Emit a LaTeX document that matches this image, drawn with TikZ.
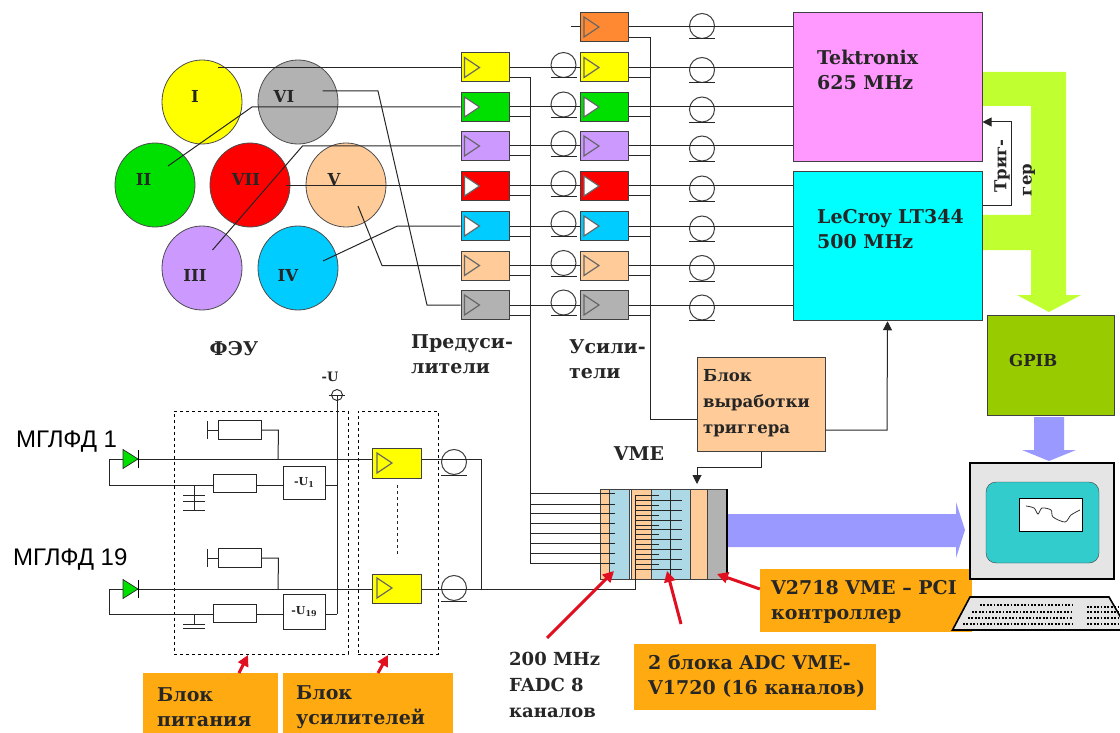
\documentclass[tikz,border=0pt]{standalone}
\usepackage{xcolor}
\usepackage{fontspec}
\setmainfont{DejaVu Serif}
\newfontfamily\arialfont{Liberation Sans}
\usepackage{tikz}
\usetikzlibrary{arrows.meta,positioning,shapes.geometric,fit}
\definecolor{CYellow}{RGB}{255,255,0}
\definecolor{CGreen}{RGB}{0,224,0}
\definecolor{CPurple}{RGB}{204,153,255}
\definecolor{CRed}{RGB}{255,0,0}
\definecolor{CBlue}{RGB}{0,204,255}
\definecolor{CPeach}{RGB}{255,204,153}
\definecolor{CGray}{RGB}{178,178,178}
\definecolor{COrange}{RGB}{255,136,51}
\definecolor{CPink}{RGB}{255,153,255}
\definecolor{CCyan}{RGB}{0,255,255}
\definecolor{CLabel}{RGB}{255,170,17}
\definecolor{CLime}{RGB}{192,255,48}
\definecolor{COlive}{RGB}{153,204,0}
\definecolor{CPeri}{RGB}{153,153,255}
\definecolor{CTeal}{RGB}{51,204,204}
\definecolor{CRack}{RGB}{173,216,230}
\definecolor{CArrow}{RGB}{224,16,32}
\tikzset{
  wire/.style={draw=black!85,line width=1pt},
  pmt/.style={ellipse,draw=black!70,line width=0.8pt,inner sep=0pt,minimum width=80pt,minimum height=84pt},
  pmtlabel/.style={font=\bfseries\fontsize{16.5}{16.5}\selectfont,text=black!85,inner sep=0pt},
  ampbox/.style={rectangle,draw=black!75,line width=1pt,inner sep=0pt,minimum width=48pt,minimum height=29pt},
  ampmark/.style={draw=black!60,line width=1.2pt},
  coil/.style={circle,draw=black!75,line width=1pt,inner sep=0pt,minimum size=25pt},
  block/.style={rectangle,draw=black!75,line width=1pt,inner sep=0pt},
  part/.style={rectangle,draw=black!85,line width=1pt,fill=white,inner sep=0pt},
  txt/.style={font=\bfseries\fontsize{19}{25}\selectfont,align=left,inner sep=0pt,anchor=west,text=black!85},
  smalltxt/.style={txt,font=\bfseries\fontsize{16.5}{26}\selectfont},
  tag/.style={rectangle,fill=CLabel,inner sep=0pt},
  dashbox/.style={rectangle,draw=black,dashed,line width=0.9pt,inner sep=0pt},
  redarrow/.style={draw=CArrow,line width=3pt,-{Triangle[length=11pt,width=11pt]}},
  blackarrow/.style={wire,-{Triangle[length=9pt,width=9pt]}},
}
\begin{document}
\begin{tikzpicture}[x=1pt,y=-1pt]
  \useasboundingbox (0,0) rectangle (1120,733);
  % PMT cluster
  \node[pmt,fill=CYellow] (pmt1) at (202,102) {};
  \node[pmt,fill=CGray] (pmt6) at (298,102) {};
  \node[pmt,fill=CGreen] (pmt2) at (155,185) {};
  \node[pmt,fill=CRed] (pmt7) at (250,185) {};
  \node[pmt,fill=CPeach] (pmt5) at (346,185) {};
  \node[pmt,fill=CPurple] (pmt3) at (202,268) {};
  \node[pmt,fill=CBlue] (pmt4) at (298,268) {};
  % preamplifiers, amplifiers, cables
  \foreach \i/\y/\c/\t in {1/67.5/CYellow/CYellow,2/107/CGreen/white,3/146/CPurple/CPurple,4/186/CRed/white,5/226/CBlue/white,6/265.5/CPeach/CPeach,7/305/CGray/CGray} {
    \node[ampbox,fill=\c] (pre\i) at (485,\y) {};
    \node[ampbox,fill=\c] (amp\i) at (604.5,\y) {};
    \draw[ampmark,fill=\t] ([xshift=4,yshift=10]pre\i.west) -- ([xshift=19]pre\i.west) -- ([xshift=4,yshift=-10]pre\i.west) -- cycle;
    \draw[ampmark,fill=\t] ([xshift=4,yshift=10]amp\i.west) -- ([xshift=19]amp\i.west) -- ([xshift=4,yshift=-10]amp\i.west) -- cycle;
    \node[coil] (cablea\i) at (563.5,\y-2.5) {};
    \node[coil] (cableb\i) at (702,\y+2.5) {};
    \draw[wire] ([xshift=-13]cablea\i.south) -- ([xshift=13]cablea\i.south);
    \draw[wire] ([xshift=-13]cableb\i.south) -- ([xshift=13]cableb\i.south);
    \draw[wire] (pre\i.east) -- (amp\i.west);
  }
  \node[ampbox,fill=COrange] (amp0) at (604.5,27) {};
  \draw[ampmark,fill=COrange] ([xshift=4,yshift=10]amp0.west) -- ([xshift=19]amp0.west) -- ([xshift=4,yshift=-10]amp0.west) -- cycle;
  \node[coil] (cableb0) at (702,26) {};
  \draw[wire] ([xshift=-13]cableb0.south) -- ([xshift=13]cableb0.south);
  \coordinate (ampin) at (571,27);
  \draw[wire] (ampin) -- (amp0.west);
  % lime bus
  \fill[CLime] (982,72) -- (1066,72) -- (1066,295) -- (1081,295) -- (1049,312) -- (1017,295) -- (1031,295) -- (1031,250) -- (982,250) -- (982,215) -- (1031,215) -- (1031,106) -- (982,106) -- cycle;
  % scopes
  \node[block,fill=CPink,minimum width=189pt,minimum height=149pt] (tek) at (887.5,87.5) {};
  \node[block,fill=CCyan,minimum width=189pt,minimum height=149.5pt] (lecroy) at (887.5,246) {};
  \node[block,fill=COlive,minimum width=127pt,minimum height=100pt] (gpib) at (1050.5,365) {};
  \node[block,fill=CPeach,minimum width=128pt,minimum height=94pt] (trigblock) at (761,404) {};
  \foreach \i in {0,...,7}
    \draw[wire] (amp\i.east) -- (amp\i.east -| tek.west);
  % wires from the PMTs
  \coordinate (pin1) at (218,67.5);
  \coordinate (pin2) at (168,166);
  \coordinate (pin3) at (212.5,250);
  \coordinate (pin4) at (323,261);
  \coordinate (pin5) at (358,206);
  \coordinate (pin6) at (322.5,91);
  \coordinate (pin7) at (286,186);
  \draw[wire] (pin1) -- (pre1.west);
  \draw[wire] (pin2) -- (252,107) -- (pre2.west);
  \draw[wire] (pin3) -- (302.5,146) -- (pre3.west);
  \draw[wire] (pin7) -- (pre4.west);
  \draw[wire] (pin4) -- (397.5,226) -- (pre5.west);
  \draw[wire] (pin5) -- (382,265.5) -- (pre6.west);
  \draw[wire] (pin6) -- (378,91) -- (427,305) -- (pre7.west);
  % taps to the trigger and to the rack
  \foreach \i in {1,...,7} {
    \draw[wire] ([yshift=-10]pre\i.east) -- ++(21,0);
    \draw[wire] ([yshift=-10]amp\i.east) -- ++(21,0);
  }
  \coordinate (tapa) at (530,77);
  \coordinate (tapb) at (650,38);
  \draw[wire] (amp0.east |- tapb) -- (tapb) |- (trigblock.west |- 0,419);
  % VME rack
  \node[block,minimum width=127pt,minimum height=90pt] (vme) at (663.5,534) {};
  \foreach \xa/\xb/\c in {600/609/CPeach,609/629/CRack,631/651/CPeach,651/690/CRack,690/707/CPeach,707/727/CGray} {
    \draw[block,fill=\c] (\xa,489) rectangle (\xb,579);
  }
  \draw[wire] (670,489) -- (670,579);
  \draw[black,line width=1.8pt] (727,489) -- (727,579);
  \draw[wire] (tapa) -- (530,563);
  \foreach \y in {493,504,513,523,533,543,553,563}
    \draw[wire] (530,\y) -- (615,\y);
  \foreach \y/\x in {495/659,500/682,505/659,510/682,515/659,520/682,525/659,529.5/682,534/659,539/682,544/659,549/682,554/659,559/682,564/659,569/682}
    \draw[wire] (635,\y) -- (\x,\y);
  % big arrows
  \fill[CPeri] (728,514) -- (956,514) -- (956,502) -- (965,530) -- (956,558) -- (956,547) -- (728,547) -- cycle;
  \fill[CPeri] (1034,417) -- (1064,417) -- (1064,450) -- (1076,450) -- (1049,461) -- (1022,450) -- (1034,450) -- cycle;
  % orange labels
  \node[tag,minimum width=212pt,minimum height=63pt] (tagpci) at (866,600.5) {};
  \node[tag,minimum width=241.5pt,minimum height=66pt] (tagadc) at (754.75,677) {};
  \node[tag,minimum width=135pt,minimum height=60pt] (tagpower) at (210.5,703) {};
  \node[tag,minimum width=170pt,minimum height=60pt] (tagamps) at (368,703) {};
  % computer
  \node[block,draw=black,line width=1.8pt,fill=black!10,minimum width=144pt,minimum height=116pt] (pc) at (1042,521) {};
  \node[rectangle,rounded corners=10pt,draw=black!75,fill=CTeal,minimum width=113pt,minimum height=81pt,inner sep=0pt] (screen) at (1042.5,522.5) {};
  \node[block,draw=black,fill=white,minimum width=63pt,minimum height=33pt] (window) at (1050.5,514.5) {};
  \draw[black!80,line width=0.8pt] plot[smooth] coordinates {(1026,506) (1034,508) (1038,514) (1042,508) (1051,510) (1053,517) (1065,522) (1071,515) (1080,510)};
  \draw[black,line width=1.6pt,fill=black!10] (952.5,630) -- (970,597) -- (1109,597) -- (1128,630) -- cycle;
  \foreach \xa/\y in {980/605,972/612,968/618,963/624}
    \draw[black,line width=2.2pt,dash pattern=on 1.8pt off 1.6pt] (\xa,\y) -- (1073,\y);
  \foreach \y in {607,612,618,624}
    \draw[black,line width=2.2pt,dash pattern=on 1.8pt off 1.6pt] (1087,\y) -- (1120,\y);
  % trigger wiring
  \coordinate (scopetrig) at (1011,206);
  \draw[blackarrow] (lecroy.east |- scopetrig) -- (scopetrig) |- (tek.east |- 0,122);
  \draw[blackarrow] (trigblock.east |- 0,430) -- (887,430) -- (lecroy.south);
  \coordinate (rackin) at (697,484);
  \draw[blackarrow] (trigblock.south) |- (697,467) -- (rackin);
  % power and amplifier part
  \node[dashbox,minimum width=174pt,minimum height=243pt] (powerbox) at (261,532.5) {};
  \node[dashbox,minimum width=80pt,minimum height=243pt] (ampsbox) at (398,532.5) {};
  \node[coordinate] (uin) at (337,395) {};
  \node[circle,draw=black!85,line width=0.9pt,inner sep=0pt,minimum size=11pt] (uterm) at (uin) {};
  \draw[wire] ([xshift=-8]uterm.center) -- ([xshift=8]uterm.center);
  \draw[wire] (uterm.center) -- (337,614);
  \foreach \n/\ya/\yb/\yc/\yd/\uy/\uh/\ay/\tri/\cabley in {a/459/485/430/483/482.5/33/463.5/463/462,b/589/614/558/613/611.5/35/589/588/588} {
    \node[ampbox,fill=CYellow,minimum width=49pt,minimum height=29.5pt] (famp\n) at (396.5,\ay) {};
    \draw[ampmark,fill=CYellow] (377,\tri-10) -- (392,\tri) -- (377,\tri+10) -- cycle;
    \node[coil] (fcoil\n) at (454,\cabley) {};
    \draw[wire] ([xshift=-13]fcoil\n.south) -- ([xshift=13]fcoil\n.south);
    \node[part,minimum width=42pt,minimum height=\uh pt] (ubox\n) at (304,\uy) {};
    \node[part,minimum width=43pt,minimum height=18pt] (rlow\n) at (234.5,\yd) {};
    \node[part,minimum width=43pt,minimum height=19pt] (rtop\n) at (239.5,\yc) {};
    \draw[wire] (rtop\n.west) -- ++(-10,0) coordinate (rbar\n);
    \draw[wire] ([yshift=-9]rbar\n) -- ([yshift=9]rbar\n);
    \draw[wire] (rtop\n.east) -- ++(17,0) -- (278,\ya);
    \coordinate (dleft\n) at (109,\ya);
    \draw[wire] (dleft\n) -- (famp\n.west |- dleft\n);
    \draw[wire] (dleft\n) -- (109,\yb) -- (rlow\n.west |- 0,\yb);
    \draw[wire] (rlow\n.east |- 0,\yb) -- (ubox\n.west |- 0,\yb);
    \draw[wire] (ubox\n.east |- 0,\yb) -- (337,\yb);
    \draw[black!85,line width=0.7pt,fill=CGreen] (123,\ya-9.5) -- (138,\ya) -- (123,\ya+9.5) -- cycle;
    \draw[black,line width=1pt] (138.5,\ya-9) -- (138.5,\ya+9);
    \draw[wire] (famp\n.east |- dleft\n) -- (481,\ya);
  }
  \coordinate (capa) at (194,485);
  \coordinate (capb) at (194,614);
  \draw[wire] (capa) -- (194,510);
  \draw[wire] (183,495) -- (205,495);
  \draw[wire] (183,501.5) -- (205,501.5);
  \draw[wire] (183,510) -- (205,510);
  \draw[wire] (capb) -- (194,624);
  \draw[wire] (183,624) -- (205,624);
  \draw[wire] (183,628.5) -- (205,628.5);
  \draw[wire,dashed] (397,485) -- (397,557);
  \draw[wire] (481,459) -- (481,589);
  \coordinate (comb) at (635,495);
  \draw[wire] (481,589) -- (635,589) -- (comb);
  % red pointers
  \coordinate (fadctail) at (547,638);
  \coordinate (fadctip) at (614,571);
  \coordinate (adctail) at (681,624);
  \coordinate (adctip) at (667,571);
  \coordinate (pcitip) at (717,574);
  \coordinate (powertip) at (248,655);
  \coordinate (ampstip) at (388,655);
  \draw[redarrow] (fadctail) -- (fadctip);
  \draw[redarrow] (adctail) -- (adctip);
  \draw[redarrow] (tagpci.west |- 0,589) -- (pcitip);
  \draw[redarrow] (239,673) -- (powertip);
  \draw[redarrow] (378,673) -- (ampstip);
  % texts
  \node[pmtlabel] (lab1) at (195,96) {I};
  \node[pmtlabel] (lab6) at (284,96) {VI};
  \node[pmtlabel] (lab2) at (143.5,179) {II};
  \node[pmtlabel] (lab7) at (246,179) {VII};
  \node[pmtlabel] (lab5) at (334,179) {V};
  \node[pmtlabel] (lab3) at (195,275) {III};
  \node[pmtlabel] (lab4) at (288,275) {IV};
  \node[txt,anchor=center] (labpmt) at (234,349) {ФЭУ};
  \node[txt] (labpre) at (411,354) {Предуси-\\лители};
  \node[txt] (labamp) at (569,359) {Усили-\\тели};
  \node[txt] (labtek) at (817,70) {Tektronix\\625 MHz};
  \node[txt] (lablec) at (817,229) {LeCroy LT344\\500 MHz};
  \node[smalltxt,rotate=90,anchor=center] (labtriga) at (1002,166) {Триг-};
  \node[smalltxt,rotate=90,anchor=center] (labtrigb) at (1029,180) {гер};
  \node[smalltxt] (labgpib) at (1009,360) {GPIB};
  \node[smalltxt] (labblock) at (703,403) {Блок\\выработки\\триггера};
  \node[txt,anchor=center] (labvme) at (639,454) {VME};
  \node[txt] (labpci) at (771,602) {V2718 VME – PCI\\контроллер};
  \node[txt] (labadc) at (648,676) {2 блока ADC VME-\\V1720 (16 каналов)};
  \node[txt,font=\bfseries\fontsize{18}{26}\selectfont] (labfadc) at (509,685) {200 MHz\\FADC 8\\каналов};
  \node[txt] (labpower) at (157,707) {Блок\\питания};
  \node[txt] (labamps) at (296,707) {Блок\\усилителей};
  \node[txt,anchor=center,font=\bfseries\fontsize{13}{13}\selectfont] (labu) at (330,377) {-U};
  \node[txt,anchor=center,font=\bfseries\fontsize{11}{11}\selectfont] (labua) at (uboxa) {-U\raisebox{-2pt}{\fontsize{8}{8}\selectfont 1}};
  \node[txt,anchor=center,font=\bfseries\fontsize{11}{11}\selectfont] (labub) at (uboxb) {-U\raisebox{-2pt}{\fontsize{8}{8}\selectfont 19}};
  \node[inner sep=0pt,anchor=west,font=\arialfont\fontsize{24}{24}\selectfont] (labdioa) at (16,442) {МГЛФД 1};
  \node[inner sep=0pt,anchor=west,font=\arialfont\fontsize{24}{24}\selectfont] (labdiob) at (13,560) {МГЛФД 19};
\end{tikzpicture}
\end{document}
